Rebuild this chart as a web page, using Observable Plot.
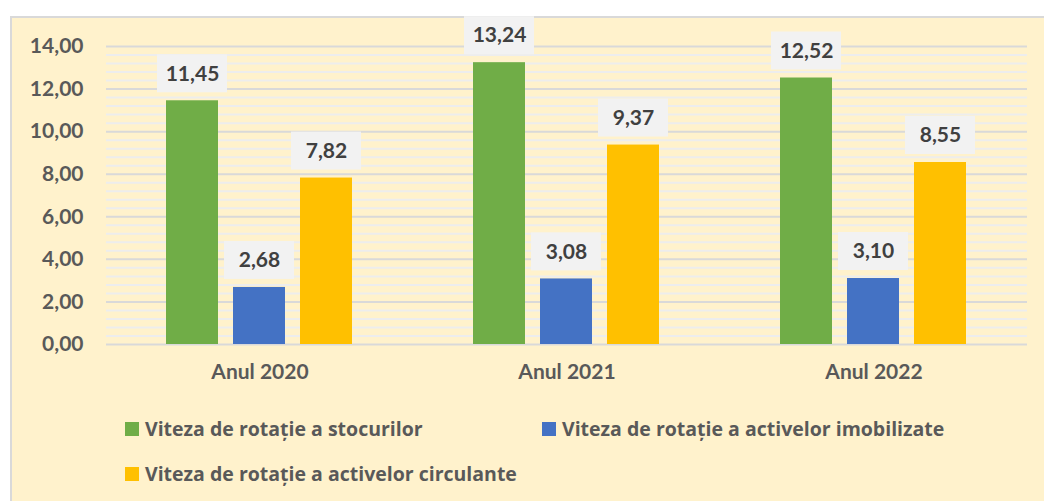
<!DOCTYPE html>
<html><head><meta charset="utf-8">
<script src="https://cdn.jsdelivr.net/npm/d3@7"></script>
<script src="https://cdn.jsdelivr.net/npm/@observablehq/plot@0.6"></script>
<style>
body{margin:0;background:#fff;font-family:Lato,sans-serif;}
#frame{position:absolute;left:10px;top:16px;width:1040px;height:492px;background:#FFF2CC;border:2px solid #D9D9D9;box-sizing:border-box;}
#chart{position:absolute;left:0;top:16px;}
#legend{position:absolute;left:125px;top:406px;width:860px;display:flex;flex-wrap:wrap;}
.item{width:417px;height:45px;display:flex;align-items:center;font-family:"Open Sans",sans-serif;font-weight:bold;font-size:19.5px;color:#595959;white-space:nowrap;}
.sw{width:14px;height:14px;margin-right:6px;flex:none;}
</style>
</head><body>
<div id="frame"></div>
<div id="chart"></div>
<div id="legend"></div>
<script>
const years = ["Anul 2020", "Anul 2021", "Anul 2022"];
const series = ["Viteza de rotație a stocurilor", "Viteza de rotație a activelor imobilizate", "Viteza de rotație a activelor circulante"];
const stocuri = [11.45, 13.24, 12.52];
const imobilizate = [2.68, 3.08, 3.10];
const circulante = [7.82, 9.37, 8.55];
const colors = ["#70AD47", "#4472C4", "#FFC000"];
const yTicks = [0, 2, 4, 6, 8, 10, 12, 14];

const valuesBySeries = [stocuri, imobilizate, circulante];
const data = [];
years.forEach((yr, i) => series.forEach((s, j) => data.push({year: yr, series: s, value: valuesBySeries[j][i]})));
const fmt = d => d.toFixed(2).replace(".", ",");
const minor = [];
for (let i = 0; i <= 35; i++) if (i % 5 !== 0) minor.push(i * 0.4);

const chart = Plot.plot({
  width: 1044, height: 380,
  marginLeft: 105, marginRight: 17, marginTop: 30, marginBottom: 52,
  style: {background: "transparent", fontFamily: "Lato", overflow: "visible"},
  fx: {domain: years, padding: 0, label: null, axis: null},
  x: {domain: series, paddingInner: 0.22, paddingOuter: 0.868, axis: null},
  y: {domain: [0, 14], axis: null},
  color: {domain: series, range: colors},
  marks: [
    Plot.ruleY(minor, {stroke: "#EDEDED", strokeWidth: 2}),
    Plot.ruleY(yTicks, {stroke: "#D9D9D9", strokeWidth: 2}),
    Plot.barY(data, {fx: "year", x: "series", y: "value", fill: "series"}),
    Plot.barY(data, {fx: "year", x: "series", y1: "value", y2: "value", fill: "#F2F2F2",
      insetTop: -46, insetBottom: 8, insetLeft: -9, insetRight: -9}),
    Plot.text(data, {fx: "year", x: "series", y: "value", text: d => fmt(d.value), dy: -27,
      fontSize: 21, fontWeight: "bold", fill: "#404040"}),
    Plot.axisY(yTicks, {tickFormat: fmt, tickSize: 0, tickPadding: 23, fontSize: 21, fontWeight: "bold", color: "#595959", label: null}),
    Plot.axisFx({anchor: "bottom", tickSize: 0, tickPadding: 20, fontSize: 21, fontWeight: "bold", color: "#595959", label: null})
  ]
});
document.getElementById("chart").appendChild(chart);

const legend = document.getElementById("legend");
series.forEach((s, j) => {
  const it = document.createElement("div");
  it.className = "item";
  const sw = document.createElement("span");
  sw.className = "sw";
  sw.style.background = colors[j];
  it.appendChild(sw);
  it.appendChild(document.createTextNode(s));
  legend.appendChild(it);
});
</script>
</body></html>
